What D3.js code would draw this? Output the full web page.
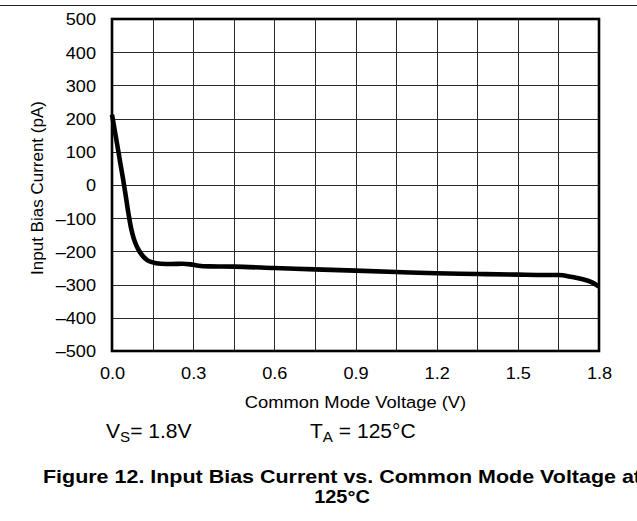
<!DOCTYPE html>
<html>
<head>
<meta charset="utf-8">
<script src="https://cdn.jsdelivr.net/npm/d3@7"></script>
<style>
  html, body { margin: 0; padding: 0; background: #fff; }
  svg { display: block; font-family: "Liberation Sans", Arial, sans-serif; }
</style>
</head>
<body>
<svg id="chart" width="637" height="521"></svg>
<script>
// Input bias current (pA) versus common mode voltage (V), VS = 1.8 V, TA = 125 °C
const voltage = [0, 0.01, 0.02, 0.03, 0.04, 0.05, 0.06, 0.07, 0.08, 0.09, 0.1, 0.115, 0.13, 0.15, 0.18,
  0.22, 0.26, 0.29, 0.32, 0.36, 0.45, 0.6, 0.75, 0.9, 1.05, 1.2, 1.35, 1.5, 1.6, 1.65, 1.7, 1.74, 1.77, 1.8];
const biasCurrent = [212, 165, 118, 70, 22, -28, -82, -128, -160, -182, -198, -215, -226, -233, -237,
  -238, -237, -239, -243, -245, -246, -250, -254, -258, -262, -266, -268, -270, -271, -271, -277, -284, -292, -306];

const xGridValues = [0, 0.15, 0.3, 0.45, 0.6, 0.75, 0.9, 1.05, 1.2, 1.35, 1.5, 1.65, 1.8];
const xTickValues = [0, 0.3, 0.6, 0.9, 1.2, 1.5, 1.8];
const yTickValues = [-500, -400, -300, -200, -100, 0, 100, 200, 300, 400, 500];

const xTitle = "Common Mode Voltage (V)";
const yTitle = "Input Bias Current (pA)";
const captionLines = ["Figure 12. Input Bias Current vs. Common Mode Voltage at", "125°C"];

const plot = { left: 112, right: 599, top: 19, bottom: 351 };
const stretch = 1.08; // slight horizontal widening of the figure's lettering

const svg = d3.select("#chart");

const x = d3.scaleLinear().domain([0, 1.8]).range([plot.left, plot.right]);
const y = d3.scaleLinear().domain([-500, 500]).range([plot.bottom, plot.top]);

// rule above the figure
svg.append("line")
  .attr("x1", 0).attr("x2", 637).attr("y1", 5.5).attr("y2", 5.5)
  .attr("stroke", "#222").attr("stroke-width", 1.2);

// grid
const grid = svg.append("g").attr("stroke", "#2a2a2a").attr("stroke-width", 1).attr("shape-rendering", "crispEdges");
grid.selectAll("line.v").data(xGridValues).join("line")
  .attr("class", "v")
  .attr("x1", d => Math.round(x(d)) + 0.5).attr("x2", d => Math.round(x(d)) + 0.5)
  .attr("y1", plot.top).attr("y2", plot.bottom);
grid.selectAll("line.h").data(yTickValues).join("line")
  .attr("class", "h")
  .attr("x1", plot.left).attr("x2", plot.right)
  .attr("y1", d => Math.round(y(d)) + 0.5).attr("y2", d => Math.round(y(d)) + 0.5);

// helper: text drawn at an anchor point, widened horizontally about that point
function stretchedText(parent, px, py, str, opts) {
  const g = parent.append("g").attr("transform", `translate(${px},${py}) scale(${stretch},1)`);
  const t = g.append("text")
    .attr("x", 0).attr("y", 0)
    .attr("text-anchor", opts.anchor || "start")
    .attr("font-size", opts.size)
    .attr("font-weight", opts.weight || "normal")
    .attr("fill", "#000");
  if (str !== null) t.text(str);
  return t;
}

// y axis labels
const yFormat = d => d < 0 ? "\u2013" + Math.abs(d) : String(d);
const yAxis = d3.axisLeft(y).tickValues(yTickValues).tickSize(0).tickFormat(yFormat);
const yAxisG = svg.append("g").attr("transform", `translate(${plot.left},0)`).call(yAxis);
yAxisG.select(".domain").remove();
yAxisG.selectAll(".tick text").remove();
yAxisG.selectAll(".tick").each(function (d) {
  stretchedText(d3.select(this), -16, 5.8, yFormat(d), { anchor: "end", size: 16.8 });
});

// x axis labels
const xFormat = d3.format(".1f");
const xAxis = d3.axisBottom(x).tickValues(xTickValues).tickSize(0).tickFormat(xFormat);
const xAxisG = svg.append("g").attr("transform", `translate(0,${plot.bottom})`).call(xAxis);
xAxisG.select(".domain").remove();
xAxisG.selectAll(".tick text").remove();
xAxisG.selectAll(".tick").each(function (d) {
  stretchedText(d3.select(this), 0, 28, xFormat(d), { anchor: "middle", size: 16.8 });
});

// curve
const line = d3.line().x((d, i) => x(voltage[i])).y(d => y(d)).curve(d3.curveMonotoneX);
svg.append("path")
  .datum(biasCurrent)
  .attr("d", line)
  .attr("fill", "none")
  .attr("stroke", "#000")
  .attr("stroke-width", 4.6)
  .attr("stroke-linejoin", "round")
  .attr("stroke-linecap", "butt");

// plot frame
svg.append("rect")
  .attr("x", plot.left).attr("y", plot.top)
  .attr("width", plot.right - plot.left).attr("height", plot.bottom - plot.top)
  .attr("fill", "none").attr("stroke", "#000").attr("stroke-width", 2.6);

// axis titles
stretchedText(svg, (plot.left + plot.right) / 2, 408, xTitle, { anchor: "middle", size: 17 });
svg.append("text")
  .attr("transform", `translate(43,${(plot.top + plot.bottom) / 2 + 3}) rotate(-90)`)
  .attr("text-anchor", "middle")
  .attr("font-size", 17)
  .attr("fill", "#000")
  .text(yTitle);

// conditions
const vs = stretchedText(svg, 106, 438, null, { size: 19.5 });
vs.append("tspan").text("V");
vs.append("tspan").attr("font-size", 14).attr("dy", 4).text("S");
vs.append("tspan").attr("dy", -4).text("= 1.8V");

const ta = stretchedText(svg, 310, 438, null, { size: 19.5 });
ta.append("tspan").text("T");
ta.append("tspan").attr("font-size", 14).attr("dy", 4).text("A");
ta.append("tspan").attr("dy", -4).text(" = 125°C");

// caption
svg.append("text")
  .attr("x", 43).attr("y", 483)
  .attr("font-size", 18.5).attr("font-weight", "bold").attr("fill", "#000")
  .attr("textLength", 598).attr("lengthAdjust", "spacingAndGlyphs")
  .text(captionLines[0]);
stretchedText(svg, 342, 503, captionLines[1], { anchor: "middle", size: 18.5, weight: "bold" });
</script>
</body>
</html>
